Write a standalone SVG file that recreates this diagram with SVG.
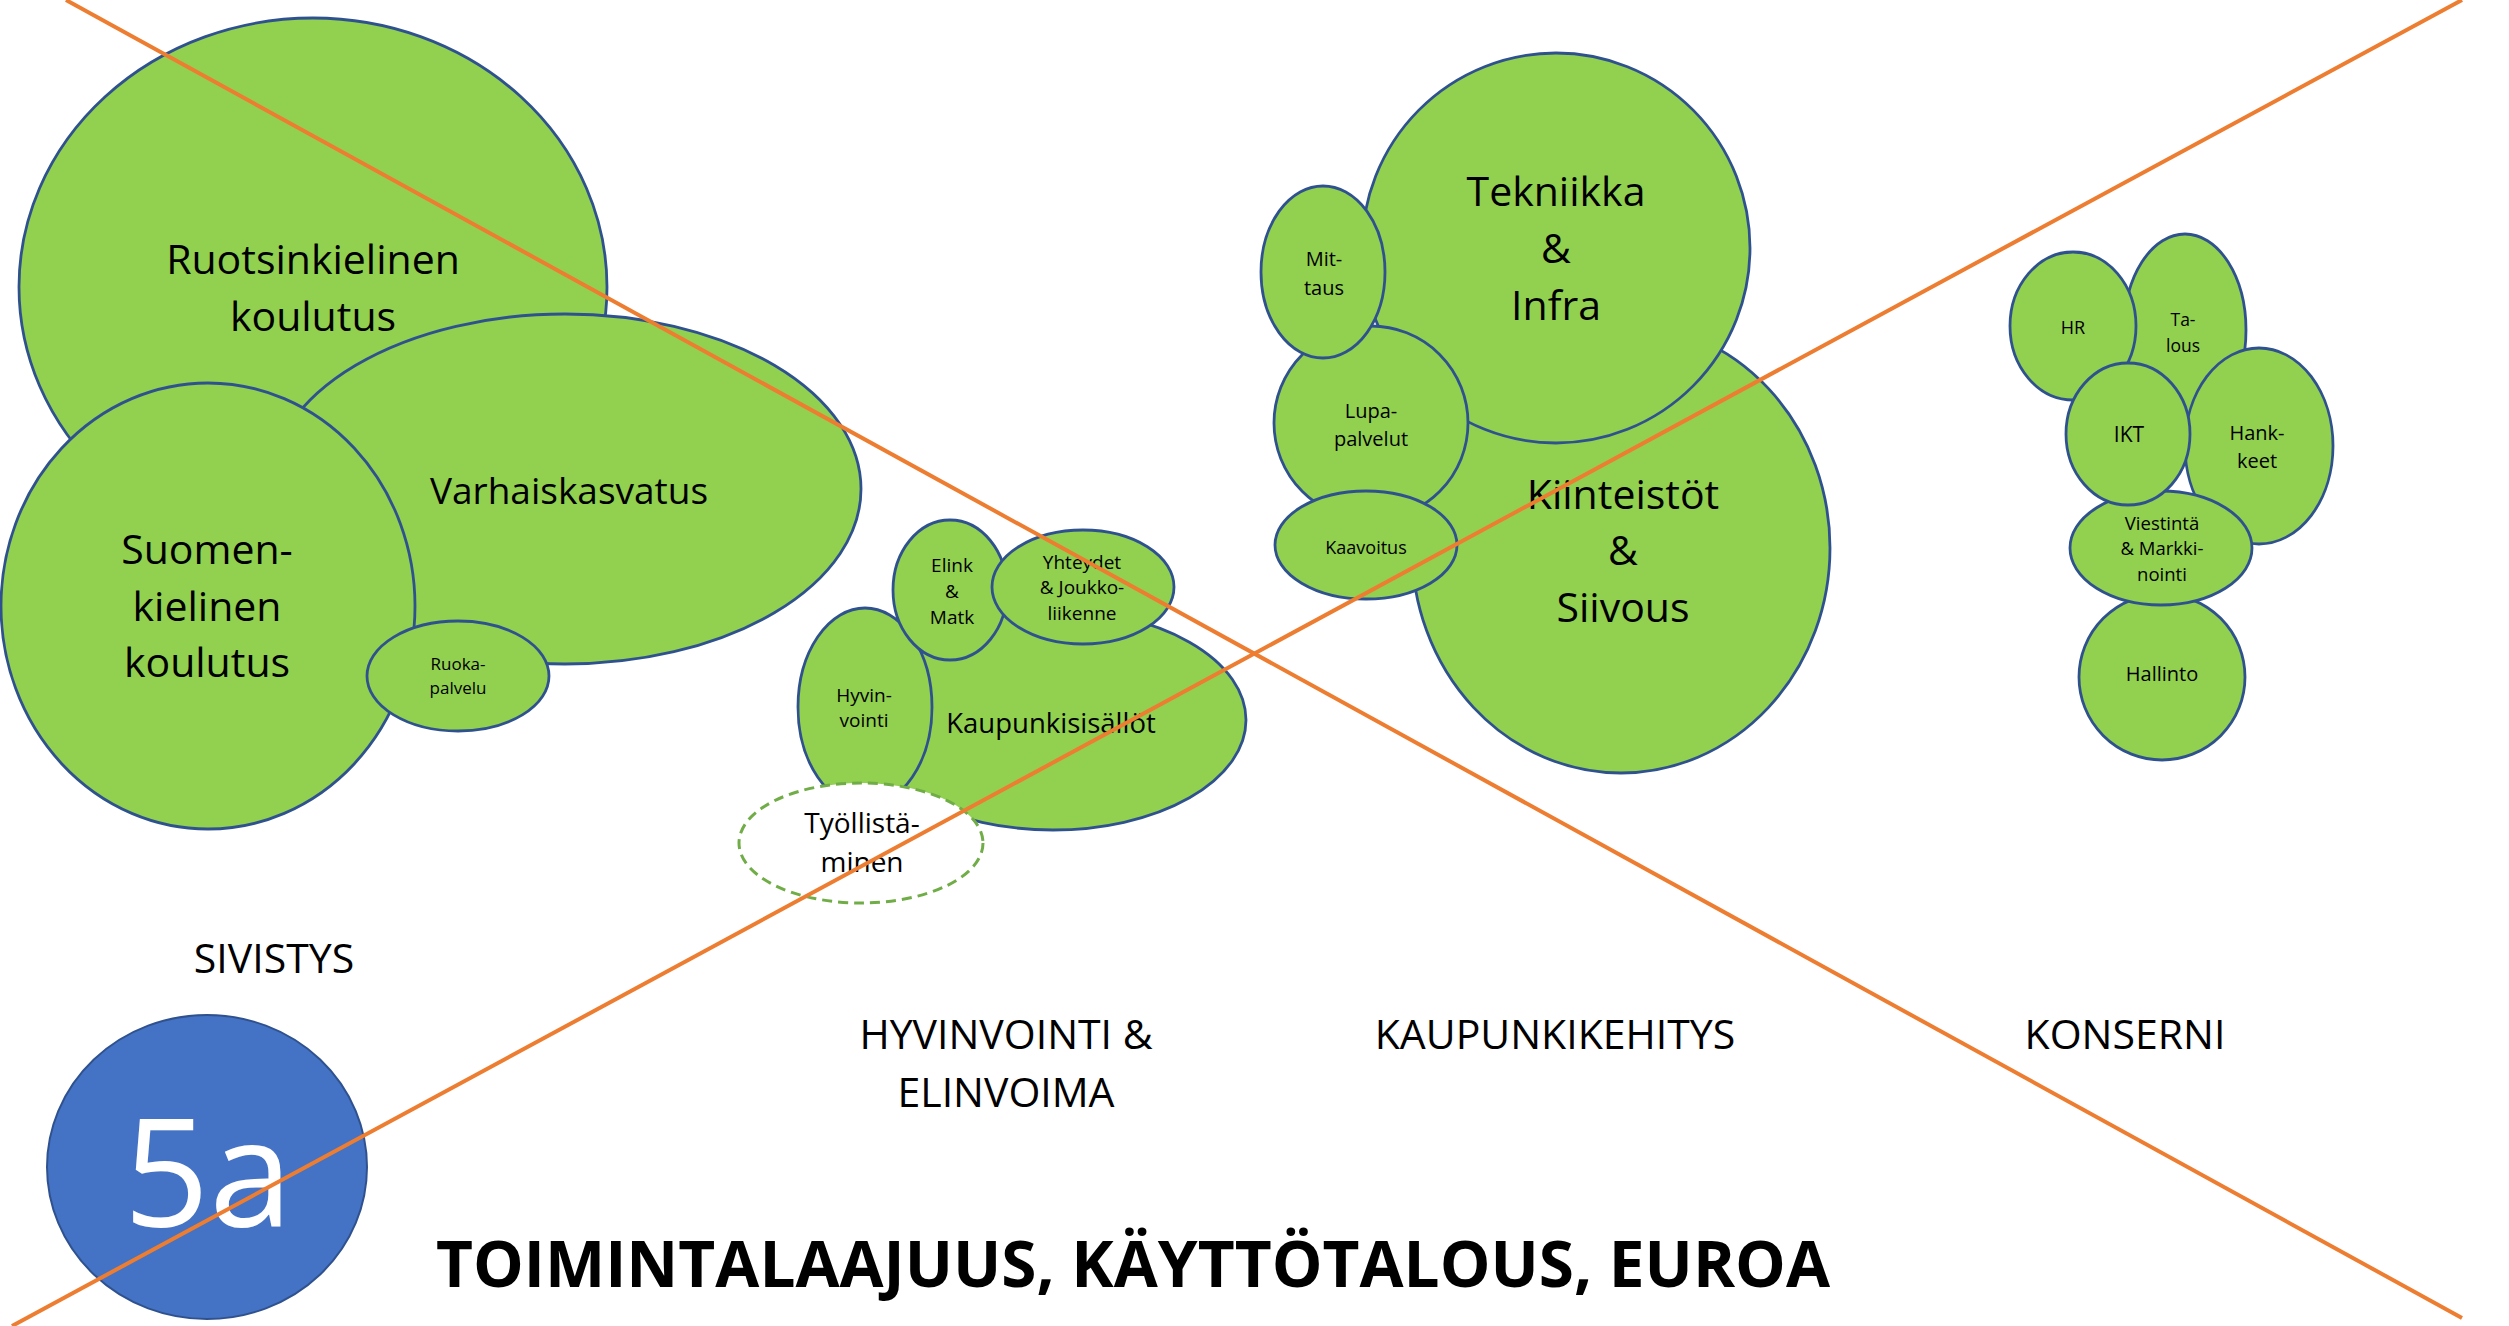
<svg xmlns="http://www.w3.org/2000/svg" width="2509" height="1326" viewBox="0 0 2509 1326">
<style>
.n{fill:#92D050;stroke:#2F528F;stroke-width:2.8}
.t{font-family:"Open Sans","Noto Sans",sans-serif;fill:#000;text-anchor:middle}
.cat{font-family:"Open Sans","Noto Sans",sans-serif;fill:#000;text-anchor:middle;font-size:41px}
.x{stroke:#ED7D31;stroke-width:4;fill:none}
</style>
<rect width="2509" height="1326" fill="#fff"/>
<g id="sivistys">
<g id="ruotsinkielinen"><ellipse class="n" cx="313" cy="287" rx="294" ry="269"/><text class="t" font-size="41"><tspan x="313" y="274">Ruotsinkielinen</tspan><tspan x="313" y="331">koulutus</tspan></text></g>
<g id="varhaiskasvatus"><ellipse class="n" cx="565" cy="489" rx="296" ry="175"/><text class="t" font-size="37" x="569" y="504">Varhaiskasvatus</text></g>
<g id="suomenkielinen"><ellipse class="n" cx="208" cy="606" rx="207" ry="223"/><text class="t" font-size="41"><tspan x="207" y="564">Suomen-</tspan><tspan x="207" y="621">kielinen</tspan><tspan x="207" y="677">koulutus</tspan></text></g>
<g id="ruokapalvelu"><ellipse class="n" cx="458" cy="676" rx="91" ry="55"/><text class="t" font-size="17"><tspan x="458" y="670">Ruoka-</tspan><tspan x="458" y="694">palvelu</tspan></text></g>
</g>
<g id="hyvinvointi-elinvoima">
<g id="kaupunkisisallot"><ellipse class="n" cx="1053" cy="720" rx="193" ry="110"/><text class="t" font-size="27.5" x="1051" y="733">Kaupunkisisällöt</text></g>
<g id="hyvinvointi"><ellipse class="n" cx="865" cy="707" rx="67" ry="99"/><text class="t" font-size="19"><tspan x="864" y="702">Hyvin-</tspan><tspan x="864" y="727">vointi</tspan></text></g>
<g id="elink-matk"><ellipse class="n" cx="950" cy="590" rx="57" ry="70"/><text class="t" font-size="19"><tspan x="952" y="572">Elink</tspan><tspan x="952" y="598">&amp;</tspan><tspan x="952" y="624">Matk</tspan></text></g>
<g id="yhteydet"><ellipse class="n" cx="1083" cy="587" rx="91" ry="57"/><text class="t" font-size="19"><tspan x="1082" y="569">Yhteydet</tspan><tspan x="1082" y="594">&amp; Joukko-</tspan><tspan x="1082" y="620">liikenne</tspan></text></g>
<g id="tyollistaminen"><ellipse cx="861" cy="843" rx="122" ry="60" fill="#fff" stroke="#70AD47" stroke-width="3" stroke-dasharray="10 6"/><text class="t" font-size="28"><tspan x="862" y="833">Työllistä-</tspan><tspan x="862" y="872">minen</tspan></text></g>
</g>
<g id="kaupunkikehitys">
<g id="kiinteistot"><ellipse class="n" cx="1621" cy="548" rx="209" ry="225"/><text class="t" font-size="41"><tspan x="1623" y="509">Kiinteistöt</tspan><tspan x="1623" y="565">&amp;</tspan><tspan x="1623" y="622">Siivous</tspan></text></g>
<g id="tekniikka"><ellipse class="n" cx="1556" cy="248" rx="194" ry="195"/><text class="t" font-size="41"><tspan x="1556" y="206">Tekniikka</tspan><tspan x="1556" y="263">&amp;</tspan><tspan x="1556" y="320">Infra</tspan></text></g>
<g id="lupapalvelut"><ellipse class="n" cx="1371" cy="423" rx="97" ry="97"/><text class="t" font-size="20"><tspan x="1371" y="418">Lupa-</tspan><tspan x="1371" y="446">palvelut</tspan></text></g>
<g id="mittaus"><ellipse class="n" cx="1323" cy="272" rx="62" ry="86"/><text class="t" font-size="20"><tspan x="1324" y="266">Mit-</tspan><tspan x="1324" y="295">taus</tspan></text></g>
<g id="kaavoitus"><ellipse class="n" cx="1366" cy="545" rx="91" ry="54"/><text class="t" font-size="18" x="1366" y="554">Kaavoitus</text></g>
</g>
<g id="konserni">
<g id="talous"><ellipse class="n" cx="2185" cy="330" rx="61" ry="96"/><text class="t" font-size="17.5"><tspan x="2183" y="326">Ta-</tspan><tspan x="2183" y="352">lous</tspan></text></g>
<g id="hr"><ellipse class="n" cx="2073" cy="326" rx="63" ry="74"/><text class="t" font-size="18" x="2073" y="334">HR</text></g>
<g id="hankkeet"><ellipse class="n" cx="2259" cy="446" rx="74" ry="98"/><text class="t" font-size="20"><tspan x="2257" y="440">Hank-</tspan><tspan x="2257" y="468">keet</tspan></text></g>
<g id="hallinto"><ellipse class="n" cx="2162" cy="677" rx="83" ry="83"/><text class="t" font-size="20" x="2162" y="681">Hallinto</text></g>
<g id="viestinta"><ellipse class="n" cx="2161" cy="548" rx="91" ry="57"/><text class="t" font-size="18.5"><tspan x="2162" y="530">Viestintä</tspan><tspan x="2162" y="555">&amp; Markki-</tspan><tspan x="2162" y="581">nointi</tspan></text></g>
<g id="ikt"><ellipse class="n" cx="2128" cy="434" rx="62" ry="71"/><text class="t" font-size="21" x="2129" y="442">IKT</text></g>
</g>
<g id="labels">
<text class="cat" x="274" y="973">SIVISTYS</text>
<text class="cat"><tspan x="1006" y="1049">HYVINVOINTI &amp;</tspan><tspan x="1006" y="1107">ELINVOIMA</tspan></text>
<text class="cat" x="1555" y="1049">KAUPUNKIKEHITYS</text>
<text class="cat" x="2125" y="1049">KONSERNI</text>
</g>
<g id="badge"><ellipse cx="207" cy="1167" rx="160" ry="152" fill="#4472C4" stroke="#2F528F" stroke-width="2"/><text class="t" font-size="150" x="208" y="1227" style="fill:#fff">5a</text></g>
<g id="title"><text class="t" font-size="64" font-weight="bold" x="1133" y="1287" textLength="1394" lengthAdjust="spacingAndGlyphs">TOIMINTALAAJUUS, KÄYTTÖTALOUS, EUROA</text></g>
<g id="connectors">
<line class="x" x1="66" y1="0" x2="2462" y2="1318"/>
<line class="x" x1="12" y1="1326" x2="2462" y2="0"/>
</g>
</svg>
